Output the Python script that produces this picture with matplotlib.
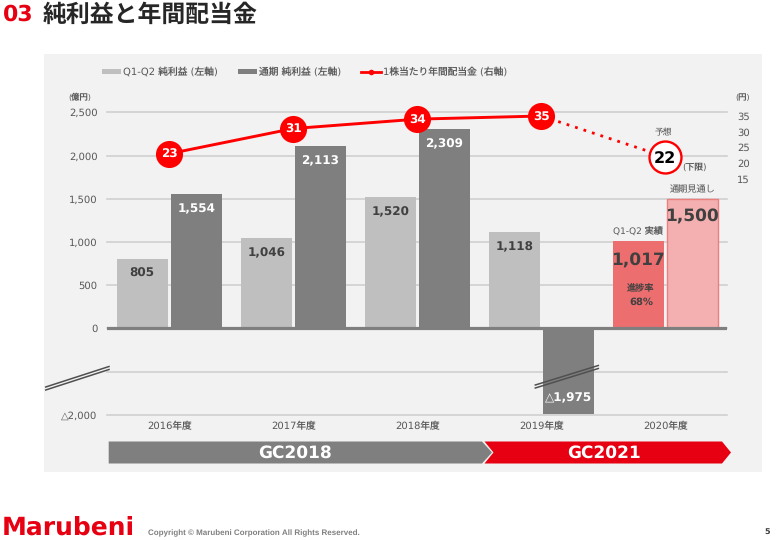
import matplotlib
matplotlib.use("Agg")
import matplotlib.pyplot as plt
import numpy as np
from matplotlib.patches import Rectangle, Polygon
from matplotlib.lines import Line2D

plt.rcParams['font.family'] = ['DejaVu Sans', 'Noto Sans CJK JP']
plt.rcParams['text.hinting'] = 'no_hinting'
plt.rcParams['text.hinting_factor'] = 1

years = ['2016年度', '2017年度', '2018年度', '2019年度', '2020年度']
q1q2 = [805, 1046, 1520, 1118, 1017]
full = [1554, 2113, 2309, -1975, 1500]
dividend = [23, 31, 34, 35, 22]
left_ticks = [2500, 2000, 1500, 1000, 500, 0, -1000, -2000]
left_labels = ['2,500', '2,000', '1,500', '1,000', '500', '0', '', '△2,000']
right_ticks = [35, 30, 25, 20, 15]

W, H = 777, 540
RED = '#E60012'
TXT = '#595959'
DARKTXT = '#404040'
fig = plt.figure(figsize=(W/100, H/100), dpi=100, facecolor='white')

def fx(px): return px / W
def fy(py): return 1 - py / H
def pts(px): return [(fx(x), fy(y)) for x, y in px]

fig.add_artist(Rectangle((fx(44), fy(472)), 718/W, 418/H, transform=fig.transFigure,
                         fc='#F2F2F2', ec='none', zorder=-5))

L, R, T, B = 107.3, 727.3, 112.5, 414.7
ax = fig.add_axes([fx(L), fy(B), (R-L)/W, (B-T)/H], facecolor='none')

def fwd(v):
    v = np.asarray(v, dtype=float)
    return np.where(v < 0, v / 2, v)
def inv(v):
    v = np.asarray(v, dtype=float)
    return np.where(v < 0, v * 2, v)
ax.set_yscale('function', functions=(fwd, inv))
ax.set_ylim(-2000, 2500)
ax.set_xlim(-0.5, 4.5)
ax.set_yticks(left_ticks)
ax.set_yticklabels(left_labels, fontsize=6.9, color=TXT)
ax.minorticks_off()
ax.set_xticks(range(5))
ax.set_xticklabels(years, fontsize=6.9, color=TXT)
ax.tick_params(axis='both', length=0)
ax.tick_params(axis='x', pad=5)
ax.tick_params(axis='y', pad=7)
for s in ax.spines.values():
    s.set_visible(False)
ax.grid(axis='y', color='#D0D0D0', lw=1.2, zorder=0, clip_on=False)
ax.set_axisbelow(True)

w, off = 0.409, 0.218
x = np.arange(5)
c1 = ['#BFBFBF'] * 4 + ['#EC6E6E']
c2 = ['#7F7F7F'] * 4 + ['#F4B0B0']
e2 = ['#7F7F7F'] * 4 + ['#EC7E7E']
ax.bar(x - off, q1q2, w, color=c1, zorder=2, linewidth=0)
ax.bar(x + off, full, w, color=c2, edgecolor=e2, linewidth=[0, 0, 0, 0, 1.0], zorder=2)
ax.axhline(0, color='#7F7F7F', lw=2.3, zorder=3)

def lab(xv, yv, s, dy, color, size=8.6):
    ax.annotate(s, (xv, yv), xytext=(0, -dy * 0.72), textcoords='offset points',
                ha='center', va='center', fontsize=size, fontweight='bold', color=color, zorder=4)

for i in range(4):
    lab(x[i] - off, q1q2[i], f'{q1q2[i]:,}', 15, DARKTXT)
for i in range(3):
    lab(x[i] + off, full[i], f'{full[i]:,}', 15, 'white')
ax.annotate('△' + f'{abs(full[3]):,}', (x[3] + off, full[3]), xytext=(0, 11.5), textcoords='offset points',
            ha='center', va='center', fontsize=8.6, fontweight='bold', color='white', zorder=4)
lab(x[4] - off, q1q2[4], f'{q1q2[4]:,}', 20, DARKTXT, 12)
lab(x[4] + off, full[4], f'{full[4]:,}', 18, DARKTXT, 12)

ax2 = ax.twinx()
ax2.set_facecolor('none')
ax2.set_ylim(35 - (B - 116) / 3.14, 35 + (116 - T) / 3.14)
ax2.set_yticks(right_ticks)
ax2.set_yticklabels([str(t) for t in right_ticks], fontsize=6.9, color=TXT)
ax2.tick_params(axis='y', length=0, pad=7)
for s in ax2.spines.values():
    s.set_visible(False)
ax2.plot(x[:4], dividend[:4], color='#FF0000', lw=2.1, marker='o', ms=19.5, mew=0, zorder=5, clip_on=False)
ax2.plot(x[3:], dividend[3:], color='#FF0000', lw=2.0, ls=(0, (1, 2.2)), zorder=4, clip_on=False)
ax2.plot(x[4], dividend[4], marker='o', ms=23, mfc='white', mec='#FF0000', mew=1.7, zorder=6, clip_on=False)
for i in range(4):
    ax2.text(x[i], dividend[i], str(dividend[i]), ha='center', va='center_baseline', color='white',
             fontsize=8.4, fontweight='bold', zorder=7)
ax2.text(x[4], dividend[4], str(dividend[4]), ha='center', va='center_baseline', color='black',
         fontsize=11.6, fontweight='bold', zorder=7)

def pt(px, py, s, size=6.3, color=TXT, weight='normal', ha='center'):
    fig.text(fx(px), fy(py), s, fontsize=size, color=color, fontweight=weight, ha=ha, va='center', zorder=8)

handles = [Rectangle((0, 0), 1, 1, fc='#BFBFBF', ec='none'),
           Rectangle((0, 0), 1, 1, fc='#7F7F7F', ec='none'),
           Line2D([], [], color='#FF0000', lw=2, marker='o', ms=4, mew=0)]
names = ['Q1-Q2 純利益 (左軸)', '通期 純利益 (左軸)', '1株当たり年間配当金 (右軸)']
fig.legend(handles, names, ncol=3, frameon=False, fontsize=7, labelcolor=TXT,
           loc='center left', bbox_to_anchor=(fx(93), fy(72)), handlelength=2.0, handleheight=0.35,
           handletextpad=0.2, columnspacing=2.05)

pt(3, 15, '03', 15.5, RED, 'bold', 'left')
pt(43, 15, '純利益と年間配当金', 17.2, '#262626', 'bold', 'left')
pt(80, 97, '(億円)', 6, TXT)
pt(743, 98, '(円)', 6, TXT)
pt(638, 231, 'Q1-Q2 実績', 6.6)
pt(693, 189.5, '通期見通し', 6.6, '#666666', 'light')
pt(663, 132.5, '予想', 6.3, '#666666', 'light')
pt(694, 167, '(下限)', 6.3)
pt(641, 289, '進捗率', 6.6, DARKTXT)
pt(641, 302, '68%', 6.9, DARKTXT, 'bold')

for (x0, y0, x1, y1) in [(45.7, 387, 109, 366.5), (535.3, 385, 598.3, 365.5)]:
    for d in (0, 3):
        fig.add_artist(Line2D([fx(x0), fx(x1)], [fy(y0 + d), fy(y1 + d)], transform=fig.transFigure,
                              color='#505050', lw=1.1, zorder=6))

fig.add_artist(Polygon(pts([(108.7, 441.5), (482, 441.5), (492, 452.5), (482, 463.5), (108.7, 463.5)]),
                       closed=True, transform=fig.transFigure, fc='#7F7F7F', ec='none', zorder=1))
fig.add_artist(Polygon(pts([(484.5, 441.5), (722, 441.5), (731, 452.5), (722, 463.5), (484.5, 463.5), (493.5, 452.5)]),
                       closed=True, transform=fig.transFigure, fc=RED, ec='none', zorder=1))
pt(295, 453, 'GC2018', 12.2, 'white', 'bold')
pt(604, 453, 'GC2021', 12.2, 'white', 'bold')

pt(2, 528, 'Marubeni', 18, RED, 'bold', 'left')
fig.text(fx(148), fy(533), 'Copyright © Marubeni Corporation All Rights Reserved.', fontsize=6.04,
         family='Liberation Sans', fontweight='bold', color='#808080', ha='left', va='center')
pt(767, 532, '5', 5.8, DARKTXT, 'bold')

fig.savefig('out.png', dpi=100, facecolor='white')
